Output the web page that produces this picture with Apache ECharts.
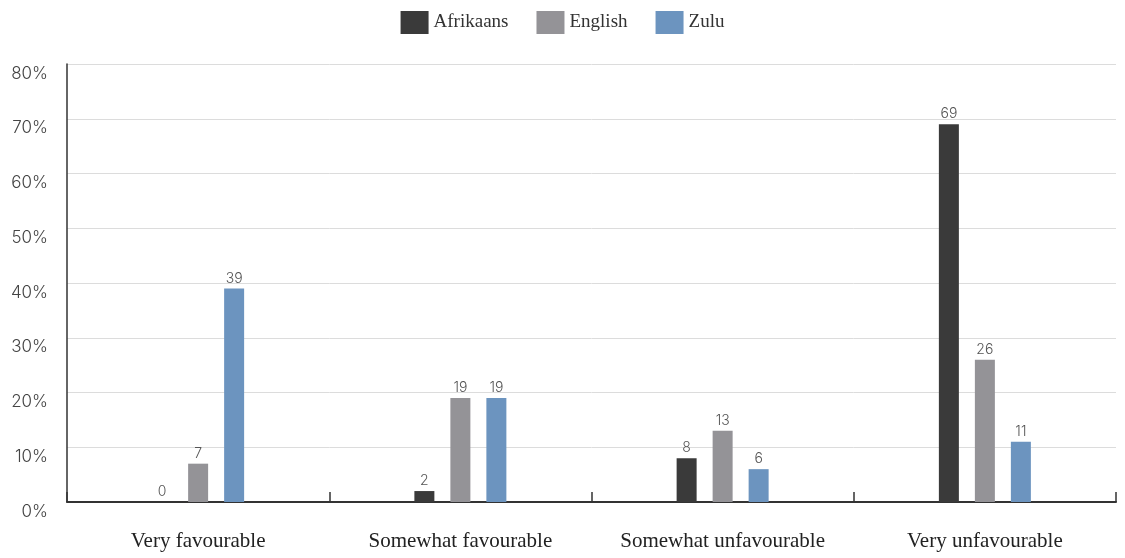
<!DOCTYPE html>
<html>
<head>
<meta charset="utf-8">
<script src="https://cdn.jsdelivr.net/npm/echarts@6/dist/echarts.min.js"></script>
<style>
html,body{margin:0;padding:0;background:#fff;}
#chart{width:1125px;height:558px;}
</style>
</head>
<body>
<div id="chart"></div>
<script>
const categories = ['Very favourable', 'Somewhat favourable', 'Somewhat unfavourable', 'Very unfavourable'];
const seriesNames = ['Afrikaans', 'English', 'Zulu'];
const afrikaans = [0, 2, 8, 69];
const english = [7, 19, 13, 26];
const zulu = [39, 19, 6, 11];
const colors = ['#3a3a3a', '#949397', '#6c94bf'];

const chart = echarts.init(document.getElementById('chart'), null, {renderer: 'canvas'});
const values = [afrikaans, english, zulu];
const labelFont = {fontFamily: 'Inter, Lato, sans-serif', fontWeight: 300};
const serif = '"Liberation Serif", "DejaVu Serif", serif';

chart.setOption({
  animation: false,
  color: colors,
  legend: {
    top: 6,
    left: 'center',
    itemWidth: 28,
    itemHeight: 23,
    itemGap: 28,
    icon: 'rect',
    textStyle: {fontFamily: serif, fontSize: 19, color: '#333'},
    data: seriesNames
  },
  grid: {left: 67, right: 9, top: 64, bottom: 56, containLabel: false},
  xAxis: {
    type: 'category',
    data: categories,
    axisLine: {lineStyle: {color: '#333', width: 2}},
    axisTick: {show: true, inside: true, length: 10, interval: 0, lineStyle: {color: '#333', width: 1.5}},
    axisLabel: {fontFamily: serif, fontSize: 21, color: '#222', margin: 29, interval: 0, hideOverlap: false}
  },
  yAxis: {
    type: 'value',
    min: 0,
    max: 80,
    interval: 10,
    axisLine: {show: true, lineStyle: {color: '#333', width: 1.5}},
    axisTick: {show: false},
    splitLine: {lineStyle: {color: '#dcdcdc', width: 1}},
    axisLabel: Object.assign({
      formatter: '{value}%', fontSize: 17, color: '#444', margin: 19,
      verticalAlign: 'top', padding: [1, 0, 0, 0]
    }, labelFont)
  },
  series: seriesNames.map((name, i) => ({
    name: name,
    type: 'bar',
    data: values[i],
    barWidth: 20,
    barGap: '80%',
    itemStyle: {color: colors[i]},
    label: Object.assign({
      show: true, position: 'top', distance: 3, fontSize: 14, color: '#555'
    }, labelFont)
  }))
});
</script>
</body>
</html>
